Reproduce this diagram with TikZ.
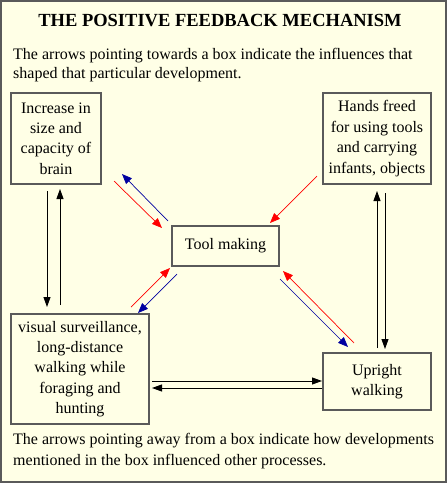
\documentclass[tikz,border=0pt]{standalone}
\usepackage{fontspec}
\setmainfont{Liberation Serif}
\usetikzlibrary{arrows.meta}
\definecolor{bg}{HTML}{FFFFE6}
\definecolor{frame}{HTML}{5A5A5A}
\definecolor{navy}{HTML}{0000A0}
\tikzset{
  box/.style={draw=frame, line width=1.3pt, fill=bg, align=center, inner sep=0pt,
    font=\fontsize{16}{20.4}\selectfont},
  txt/.style={anchor=base west, inner sep=0pt, font=\fontsize{16}{20}\selectfont},
  blk/.style={black, line width=0.9pt, -{Triangle[length=10pt,width=7pt]}},
  redarr/.style={red, line width=0.7pt, -{Triangle[length=10pt,width=8pt]}},
  bluearr/.style={navy, line width=0.7pt, -{Triangle[length=10pt,width=8pt]}},
}
\begin{document}
\begin{tikzpicture}[x=1pt,y=-1pt]
\useasboundingbox (0,0) rectangle (447,483);
\fill[bg] (0,0) rectangle (447,483);
\draw[frame, line width=1.6pt] (1,1) rectangle (446,482);

\node[anchor=base, inner sep=0pt, font=\fontsize{18.5}{20}\selectfont\bfseries] (title) at (220,26) {THE POSITIVE FEEDBACK MECHANISM};
\node[txt] (t1) at (13,59) {The arrows pointing towards a box indicate the influences that};
\node[txt] (t2) at (13,78) {shaped that particular development.};
\node[txt] (b1) at (13,444) {The arrows pointing away from a box indicate how developments};
\node[txt] (b2) at (13,465) {mentioned in the box influenced other processes.};

\node[box, minimum width=90pt, minimum height=91pt] (brain) at (56,138.5)
  {Increase in\\size and\\capacity of\\brain};
\node[box, minimum width=108pt, minimum height=91pt] (hands) at (377,138.5)
  {Hands freed\\for using tools\\and carrying\\infants, objects};
\node[box, minimum width=107pt, minimum height=40pt] (tool) at (225.5,246)
  {Tool making};
\node[box, minimum width=138pt, minimum height=110pt] (visual) at (80,369)
  {visual surveillance,\\long-distance\\walking while\\foraging and\\hunting};
\node[box, minimum width=108pt, minimum height=57pt] (upright) at (377,381.5)
  {Upright\\walking};

% vertical black arrows, left
\coordinate (l1s) at (47,191); \coordinate (l1e) at (47,307);
\coordinate (l2s) at (60,305); \coordinate (l2e) at (60,189);
\draw[blk] (l1s) -- (l1e);
\draw[blk] (l2s) -- (l2e);
% vertical black arrows, right
\coordinate (r1s) at (377,348); \coordinate (r1e) at (377,191);
\coordinate (r2s) at (385,193); \coordinate (r2e) at (385,349);
\draw[blk] (r1s) -- (r1e);
\draw[blk] (r2s) -- (r2e);
% horizontal black arrows
\coordinate (h1s) at (152,381); \coordinate (h1e) at (322,381);
\coordinate (h2s) at (322,388); \coordinate (h2e) at (152,388);
\draw[blk] (h1s) -- (h1e);
\draw[blk] (h2s) -- (h2e);

% diagonals upper left
\coordinate (ul1s) at (114,181); \coordinate (ul1e) at (162,228);
\coordinate (ul2s) at (168,221); \coordinate (ul2e) at (122,174);
\draw[redarr] (ul1s) -- (ul1e);
\draw[bluearr] (ul2s) -- (ul2e);
% upper right
\coordinate (ur1s) at (317,176); \coordinate (ur1e) at (270,223);
\draw[redarr] (ur1s) -- (ur1e);
% lower left
\coordinate (ll1s) at (131,307); \coordinate (ll1e) at (170,268);
\coordinate (ll2s) at (177,274); \coordinate (ll2e) at (138,313);
\draw[redarr] (ll1s) -- (ll1e);
\draw[bluearr] (ll2s) -- (ll2e);
% lower right
\coordinate (lr1s) at (354,343); \coordinate (lr1e) at (283,271);
\coordinate (lr2s) at (280,279); \coordinate (lr2e) at (348,347);
\draw[redarr] (lr1s) -- (lr1e);
\draw[bluearr] (lr2s) -- (lr2e);
\end{tikzpicture}
\end{document}
